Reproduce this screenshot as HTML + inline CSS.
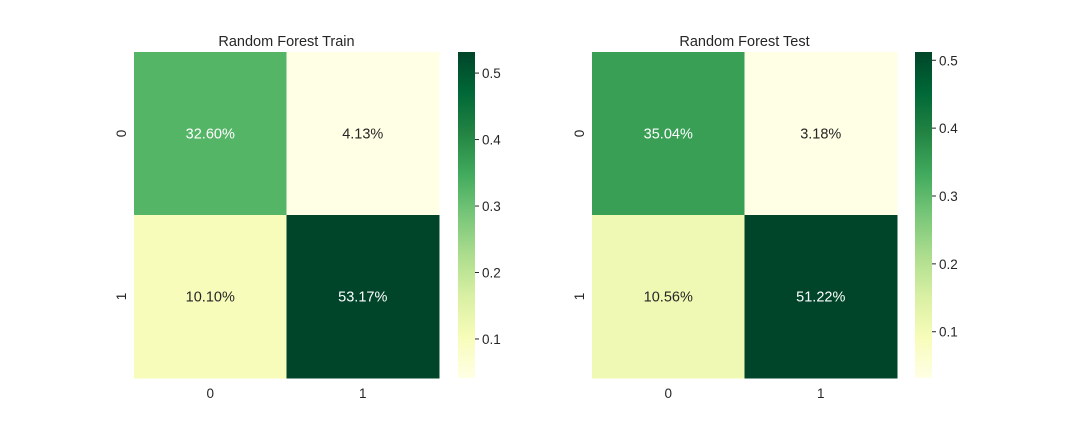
<!DOCTYPE html>
<html><head><meta charset="utf-8"><style>
body{margin:0;background:#fff;font-family:"Liberation Sans",Arial,sans-serif}
</style></head><body>
<svg id="chart" width="1080" height="432" xmlns="http://www.w3.org/2000/svg" font-family="Liberation Sans, Arial, sans-serif"></svg>
<script>
const titles = ["Random Forest Train", "Random Forest Test"];
const trainValues = [[0.3260, 0.0413], [0.1010, 0.5317]];
const testValues = [[0.3504, 0.0318], [0.1056, 0.5122]];
const tickLabels = ["0", "1"];
const cbarTicks = [0.1, 0.2, 0.3, 0.4, 0.5];

const stops = ["#ffffe5","#f7fcb9","#d9f0a3","#addd8e","#78c679","#41ab5d","#238443","#006837","#004529"];
function hex(h){return [1,3,5].map(i=>parseInt(h.substr(i,2),16));}
function cmap(t){t=Math.max(0,Math.min(1,t));const p=t*(stops.length-1);const i=Math.min(Math.floor(p),stops.length-2);const f=p-i;const a=hex(stops[i]),b=hex(stops[i+1]);return a.map((v,k)=>Math.round(v+(b[k]-v)*f));}
function rgb(c){return `rgb(${c[0]},${c[1]},${c[2]})`;}
function lum(c){const l=c.map(v=>{v/=255;return v<=0.03928?v/12.92:Math.pow((v+0.055)/1.055,2.4);});return 0.2126*l[0]+0.7152*l[1]+0.0722*l[2];}

const svg=document.getElementById('chart');
const NS="http://www.w3.org/2000/svg";
function mk(tag,attrs,parent){const e=document.createElementNS(NS,tag);for(const k in attrs)e.setAttribute(k,attrs[k]);(parent||svg).appendChild(e);return e;}

const panels=[{x:134,cb:458,vals:trainValues,title:titles[0]},{x:592,cb:915,vals:testValues,title:titles[1]}];
const topY=52,H=326,W=305,cbW=17;
const defs=mk('defs',{});
panels.forEach((p,pi)=>{
  const flat=p.vals.flat();const vmin=Math.min(...flat),vmax=Math.max(...flat);
  const g=mk('g',{});
  
  
  const cw=W/2,ch=H/2;
  p.vals.forEach((row,r)=>row.forEach((v,c)=>{
    const col=cmap((v-vmin)/(vmax-vmin));
    const rect=mk('rect',{x:p.x+c*cw,y:topY+r*ch,width:cw+0.5,height:ch+0.5,fill:rgb(col)},g);
    
    
    const t=mk('text',{x:p.x+c*cw+cw/2,y:topY+r*ch+ch/2+5,'text-anchor':'middle','font-size':14.5,fill:lum(col)>0.408?'#262626':'#ffffff'},g);
    
    
    t.textContent=(v*100).toFixed(2)+'%';
  }));
  const tt=mk('text',{x:p.x+W/2,y:46,'text-anchor':'middle','font-size':14.5,fill:'#262626'},g);
  
  
  tt.textContent=p.title;
  tickLabels.forEach((l,i)=>{
    const xt=mk('text',{x:p.x+i*cw+cw/2,y:topY+H+20,'text-anchor':'middle','font-size':13.5,fill:'#262626'},g);
    
    
    xt.textContent=l;
    const yy=topY+i*ch+ch/2, xx=p.x-8;
    const yt=mk('text',{x:xx,y:yy,'text-anchor':'middle','font-size':13.5,fill:'#262626',transform:`rotate(-90 ${xx} ${yy})`},g);
    
    
    yt.textContent=l;
  });
  const grad=mk('linearGradient',{id:'grad'+pi,x1:0,y1:1,x2:0,y2:0},defs);
  for(let i=0;i<=40;i++){mk('stop',{offset:i/40,'stop-color':rgb(cmap(i/40))},grad);}
  const cb=mk('rect',{x:p.cb,y:topY,width:cbW,height:H,fill:`url(#grad${pi})`},g);
  
  
  cbarTicks.forEach(v=>{
    const y=topY+H-(v-vmin)/(vmax-vmin)*H;
    mk('line',{x1:p.cb+cbW,x2:p.cb+cbW+4,y1:y,y2:y,stroke:'#262626','stroke-width':1},g);
    const ct=mk('text',{x:p.cb+cbW+7,y:y+5,'font-size':13.5,fill:'#262626'},g);
    
    
    ct.textContent=v.toFixed(1);
  });
});
</script>
</body></html>
